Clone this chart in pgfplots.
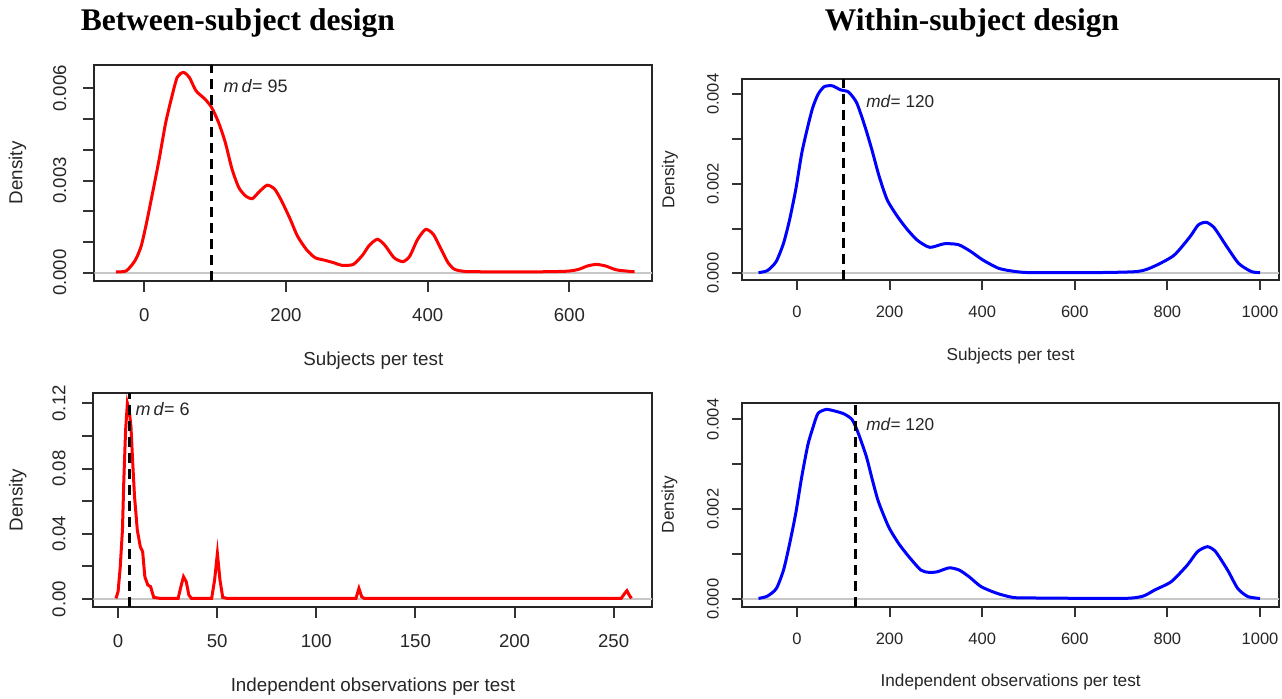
\documentclass[border=0pt]{standalone}
\usepackage{fontspec}
\usepackage{pgfplots}
\pgfplotsset{compat=1.18}
\setmainfont{Liberation Sans}
\newfontfamily\titlefont{Liberation Serif}

\tikzset{mdtext/.style={anchor=base west, inner sep=0pt, color=black!85}}

\pgfplotsset{
  rplot/.style={
    scale only axis,
    axis line style={line width=1pt, color=black!85},
    tick align=outside,
    tick pos=left,
    tick style={line width=1pt, color=black!80},
    major tick length=5.5pt,
    scaled y ticks=false,
    /pgf/number format/assume math mode=true,
    /pgf/number format/1000 sep={},
    xticklabel style={anchor=north, inner sep=0pt},
    yticklabel style={rotate=90, anchor=south, inner sep=0pt},
    xticklabel shift=8pt,
    yticklabel shift=8.3pt,
    ylabel style={anchor=center},
    xlabel style={anchor=base},
    tick label style={font=\fontsize{9.3}{10}\selectfont, color=black!85},
    label style={font=\fontsize{9.4}{10}\selectfont, color=black!85},
    ylabel={Density},
  },
  rsmall/.style={
    major tick length=5pt,
    xticklabel shift=8pt,
    yticklabel shift=6.6pt,
    tick label style={font=\fontsize{8.25}{9}\selectfont},
    label style={font=\fontsize{8.6}{9}\selectfont},
  },
  zline/.style={color=black!22, line width=1pt},
  mdline/.style={black, line width=1.5pt, dash pattern=on 5pt off 3pt},
  dens/.style={line width=1.5pt},
}

\begin{document}
\begin{tikzpicture}
\useasboundingbox (0,0) rectangle (641pt,-349pt);

\node[anchor=base, font=\titlefont\bfseries\fontsize{15.75}{18}\selectfont] at (118.9pt,-15.35pt) {Between-subject design};
\node[anchor=base, font=\titlefont\bfseries\fontsize{15.75}{18}\selectfont] at (486pt,-15.35pt) {Within-subject design};

% top left
\begin{axis}[rplot,
  at={(47.15pt,-140.35pt)}, anchor=south west,
  width=279pt, height=107.85pt,
  xmin=-70.6, xmax=717, ymin=-0.00026, ymax=0.00676,
  xtick={0,200,400,600},
  ytick={0,0.001,0.002,0.003,0.004,0.005,0.006},
  yticklabels={0.000,,,0.003,,,0.006},
  xlabel={Subjects per test},
  xlabel style={at={(axis description cs:0.5,-0.3908)}},
  ylabel style={at={(axis description cs:-0.1376,0.5)}},
]
\addplot[zline] coordinates {(-70.6,0) (717,0)};
\addplot[dens, red, smooth, tension=0.4] coordinates {
(-40,0.00003) (-25.4,0.00006) (-12.7,0.00041) (-4.4,0.00087) (3.2,0.00163)
(12.7,0.00272) (21,0.0037) (29.8,0.00484) (38,0.00565) (46.4,0.00636)
(55.2,0.00652) (63.5,0.00636) (73,0.00592) (85.7,0.00565) (95,0.00538)
(104.8,0.00489) (114.3,0.00424) (123.8,0.00337) (133.4,0.00277) (142.9,0.0025)
(152.4,0.00241) (162,0.00263) (173.4,0.00285) (184,0.00272) (193.7,0.00234)
(206,0.00174) (216,0.0012) (228.6,0.00076) (241,0.00049) (254,0.00041)
(266.7,0.00033) (279.4,0.00024) (295,0.00027) (308,0.00057) (317.5,0.00089)
(329,0.00109) (339.7,0.00089) (352.4,0.00049) (365,0.00036) (374.7,0.00054)
(385.4,0.00107) (397,0.00141) (408,0.00125) (419,0.00076) (428.6,0.00033)
(438,0.00011) (454,0.00004) (492,0.00003) (556,0.00003) (597,0.00005)
(613,0.00011) (625.5,0.00022) (638,0.00027) (651,0.00022) (667,0.00009)
(692,0.00003)
};
\addplot[mdline] coordinates {(95,-0.00026) (95,0.00676)};
\node[mdtext, font=\fontsize{9}{10}\selectfont] at (axis cs:111.5,0.00586) {\textit{m\,d}= 95};
\end{axis}

% top right
\begin{axis}[rplot, rsmall,
  at={(371.15pt,-140pt)}, anchor=south west,
  width=268.35pt, height=100.35pt,
  xmin=-118, xmax=1041, ymin=-0.00015, ymax=0.004335,
  xtick={0,200,400,600,800,1000},
  ytick={0,0.001,0.002,0.003,0.004},
  yticklabels={0.000,,0.002,,0.004},
  xlabel={Subjects per test},
  xlabel style={at={(axis description cs:0.5,-0.3986)}},
  ylabel style={at={(axis description cs:-0.1347,0.5)}},
]
\addplot[zline] coordinates {(-118,0) (1041,0)};
\addplot[dens, blue, smooth, tension=0.4] coordinates {
(-83,0.000015) (-64,0.00006) (-45,0.00026) (-29,0.00067) (-15.8,0.0012)
(-2.6,0.00187) (10.5,0.00269) (23.7,0.00329) (34,0.0037) (45.6,0.004)
(58.8,0.00417) (76.4,0.00419) (94,0.0041) (111.5,0.00405) (129,0.00381)
(146.6,0.00329) (161.6,0.00277) (177.4,0.00217) (195,0.00164) (217,0.00127)
(239,0.00097) (261,0.00073) (287,0.00058) (318,0.00066) (348.6,0.00064)
(375,0.00049) (401,0.0003) (436,0.00011) (471.5,0.00004) (506.6,0.000015)
(638,0.000015) (735,0.00004) (770,0.00015) (814,0.0004) (849,0.00082)
(866.6,0.00108) (884,0.00114) (901.7,0.00101) (928,0.0006) (954,0.00022)
(981,0.00004) (1000,0.000015)
};
\addplot[mdline] coordinates {(100,-0.00015) (100,0.004335)};
\node[mdtext, font=\fontsize{8.6}{9}\selectfont] at (axis cs:149,0.00371) {\textit{md}= 120};
\end{axis}

% bottom left
\begin{axis}[rplot,
  at={(46.75pt,-303.35pt)}, anchor=south west,
  width=279.4pt, height=106.7pt,
  xmin=-12.4, xmax=269.5, ymin=-0.0047, ymax=0.1261,
  xtick={0,50,100,150,200,250},
  ytick={0,0.02,0.04,0.06,0.08,0.1,0.12},
  yticklabels={0.00,,0.04,,0.08,,0.12},
  xlabel={Independent observations per test},
  xlabel style={at={(axis description cs:0.5,-0.3983)}},
  ylabel style={at={(axis description cs:-0.1355,0.5)}},
]
\addplot[zline] coordinates {(-12.4,0) (269.5,0)};
\addplot[dens, red] coordinates {
(-1.1,0.0004) (0,0.0045) (1.1,0.0198) (2.2,0.0423) (2.9,0.073)
(3.8,0.1036) (4.7,0.12) (5.6,0.1159) (6.5,0.1057) (7.4,0.0832)
(8.3,0.0628) (9.7,0.0423) (11.2,0.0321) (12.4,0.029) (13.5,0.0137)
(15,0.0086) (16.4,0.0076) (18,0.001) (21.3,0.0004) (30.3,0.0004)
(31.7,0.0076) (33,0.0137) (34.4,0.0106) (35.7,0.0025) (37,0.0004)
(47.2,0.0004) (48.7,0.0117) (50.1,0.028) (51.4,0.0117) (52.8,0.001)
(55,0.0004) (120,0.0004) (121.5,0.0065) (122.9,0.0014) (124.2,0.0004)
(253.8,0.0004) (255.6,0.0035) (256.7,0.0051) (257.8,0.0025) (259,0.0004)
};
\addplot[mdline] coordinates {(6,-0.0047) (6,0.1261)};
\node[mdtext, font=\fontsize{9}{10}\selectfont] at (axis cs:8.6,0.1128) {\textit{m\,d}= 6};
\end{axis}

% bottom right
\begin{axis}[rplot, rsmall,
  at={(371.15pt,-303.35pt)}, anchor=south west,
  width=268.35pt, height=102pt,
  xmin=-118, xmax=1041, ymin=-0.000164, ymax=0.00437,
  xtick={0,200,400,600,800,1000},
  ytick={0,0.001,0.002,0.003,0.004},
  yticklabels={0.000,,0.002,,0.004},
  xlabel={Independent observations per test},
  xlabel style={at={(axis description cs:0.5,-0.392)}},
  ylabel style={at={(axis description cs:-0.1358,0.5)}},
]
\addplot[zline] coordinates {(-118,0) (1041,0)};
\addplot[dens, blue, smooth, tension=0.4] coordinates {
(-83,0.00002) (-64,0.00007) (-44.5,0.00024) (-29,0.00065) (-15.7,0.00124)
(-2.6,0.00191) (10.5,0.00273) (23.5,0.00343) (34,0.0038) (45.3,0.00413)
(62.8,0.00422) (80,0.00419) (102,0.00412) (119.4,0.00399) (132.5,0.00369)
(150,0.00317) (163,0.00265) (176,0.00217) (198,0.00161) (219.7,0.00124)
(241.5,0.00095) (267.6,0.00065) (285,0.0006) (302.5,0.00061) (328.7,0.0007)
(350.5,0.00065) (372,0.0005) (398,0.00028) (433,0.00013) (468,0.00004)
(511.7,0.00003) (703.5,0.00002) (747,0.00007) (773,0.00021) (808,0.00039)
(843,0.00076) (865,0.00106) (886.6,0.00117) (904,0.00106) (930,0.00065)
(952,0.00024) (974,0.00006) (1000,0.00002)
};
\addplot[mdline] coordinates {(126,-0.000164) (126,0.00437)};
\node[mdtext, font=\fontsize{8.6}{9}\selectfont] at (axis cs:149,0.003747) {\textit{md}= 120};
\end{axis}
\end{tikzpicture}
\end{document}
